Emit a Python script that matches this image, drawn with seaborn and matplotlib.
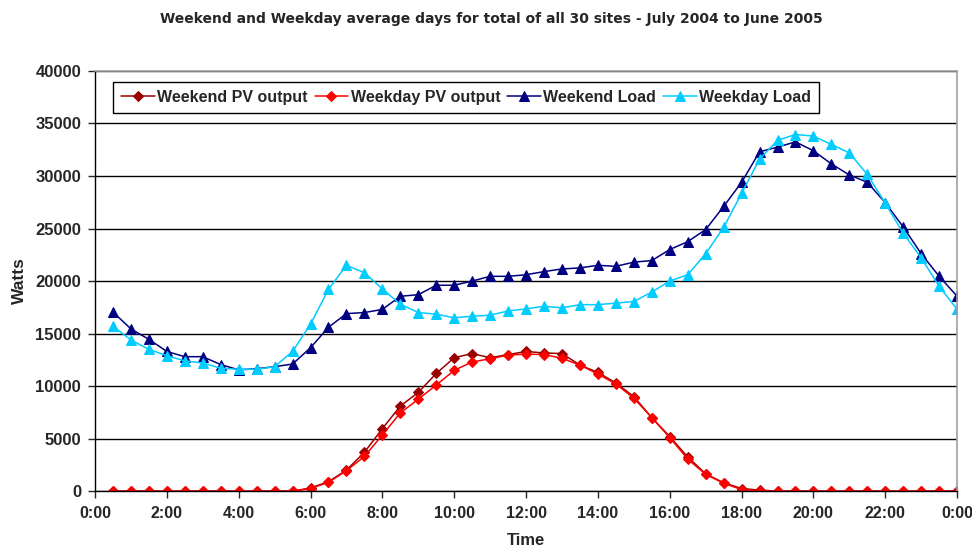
#!/usr/bin/env python3

import numpy as np
import pandas as pd
import seaborn as sns
import matplotlib.pyplot as plt

# half-hour readings, 0:30 through 24:00
times = ["0:30", "1:00", "1:30", "2:00", "2:30", "3:00", "3:30", "4:00",
         "4:30", "5:00", "5:30", "6:00", "6:30", "7:00", "7:30", "8:00",
         "8:30", "9:00", "9:30", "10:00", "10:30", "11:00", "11:30", "12:00",
         "12:30", "13:00", "13:30", "14:00", "14:30", "15:00", "15:30", "16:00",
         "16:30", "17:00", "17:30", "18:00", "18:30", "19:00", "19:30", "20:00",
         "20:30", "21:00", "21:30", "22:00", "22:30", "23:00", "23:30", "24:00"]

weekend_pv = [0, 0, 0, 0, 0, 0, 0, 0, 0, 0, 0,
              300, 900, 2000, 3700, 5950, 8100, 9400, 11200, 12700, 13100,
              12700, 13000, 13300, 13150, 13100, 12000, 11300, 10300, 9000,
              7000, 5200, 3250, 1650, 800, 250, 100,
              0, 0, 0, 0, 0, 0, 0, 0, 0, 0, 0]

weekday_pv = [0, 0, 0, 0, 0, 0, 0, 0, 0, 0, 0,
              250, 850, 1950, 3300, 5350, 7450, 8750, 10100, 11500, 12300,
              12600, 12950, 13050, 13000, 12650, 12000, 11150, 10200, 8850,
              7000, 5100, 3050, 1600, 750, 150, 50,
              0, 0, 0, 0, 0, 0, 0, 0, 0, 0, 0]

weekend_load = [17050, 15450, 14450, 13300, 12800, 12800, 12050, 11550,
                11650, 11850, 12100, 13650, 15600, 16900, 17000, 17300,
                18550, 18700, 19600, 19600, 20000, 20450, 20450, 20600,
                20900, 21150, 21250, 21500, 21400, 21800, 21950, 23000,
                23750, 24900, 27100, 29400, 32300, 32750, 33250, 32400,
                31150, 30100, 29400, 27450, 25150, 22600, 20450, 18550]

weekday_load = [15700, 14400, 13500, 12900, 12400, 12200, 11700, 11600,
                11600, 11850, 13300, 15900, 19200, 21500, 20800, 19250,
                17800, 17000, 16850, 16500, 16650, 16750, 17150, 17350,
                17600, 17450, 17750, 17750, 17900, 18050, 18950, 20000,
                20600, 22600, 25100, 28350, 31600, 33400, 33950, 33800,
                33000, 32200, 30150, 27400, 24550, 22200, 19500, 17300]

tick_hours = [0, 2, 4, 6, 8, 10, 12, 14, 16, 18, 20, 22, 24]
tick_labels = ["0:00", "2:00", "4:00", "6:00", "8:00", "10:00", "12:00",
               "14:00", "16:00", "18:00", "20:00", "22:00", "0:00"]


def to_hours(t):
    h, m = t.split(":")
    return int(h) + int(m) / 60


sns.set_style("white")
plt.rcParams["font.family"] = ["Liberation Sans", "DejaVu Sans"]
plt.rcParams["font.weight"] = "bold"

df = pd.DataFrame({
    "hour": [to_hours(t) for t in times],
    "Weekend PV output": weekend_pv,
    "Weekday PV output": weekday_pv,
    "Weekend Load": weekend_load,
    "Weekday Load": weekday_load,
})

fig = plt.figure(figsize=(9.72, 5.5), dpi=100)
ax = fig.add_axes([0.0977, 0.107, 0.887, 0.764])

series = [
    ("Weekend PV output", "#990000", "D", 5),
    ("Weekday PV output", "#FF0000", "D", 5),
    ("Weekend Load", "#000080", "^", 7.5),
    ("Weekday Load", "#00CCFF", "^", 7.5),
]
for name, col, mk, ms in series:
    sns.lineplot(data=df, x="hour", y=name, ax=ax, color=col, marker=mk,
                 markersize=ms, markeredgecolor=col, linewidth=1.1, label=name)

ax.set_xlim(0, 24)
ax.set_ylim(0, 40000)
ax.set_yticks(np.arange(0, 40001, 5000))
ax.set_xticks(tick_hours)
ax.set_xticklabels(tick_labels)
ax.tick_params(axis="x", labelsize=11.5, length=5, width=1, direction="out",
               bottom=True, pad=6)
ax.tick_params(axis="y", labelsize=12, length=5, width=1, direction="out",
               left=True, pad=5)
ax.yaxis.grid(True, color="black", linewidth=1)
ax.set_axisbelow(True)

for side in ["left", "bottom"]:
    ax.spines[side].set_color("black")
    ax.spines[side].set_linewidth(1)
for side in ["top", "right"]:
    ax.spines[side].set_color("#A0A0A0")
    ax.spines[side].set_linewidth(1.2)

ax.set_xlabel("Time", fontsize=12, fontweight="bold", labelpad=8)
ax.set_ylabel("Watts", fontsize=12.5, fontweight="bold", labelpad=6)
fig.suptitle("Weekend and Weekday average days for total of all 30 sites - July 2004 to June 2005",
             x=0.506, y=0.978, fontsize=10, fontweight="bold",
             family=["DejaVu Sans"])

leg = ax.legend(loc="upper left", bbox_to_anchor=(0.021, 0.974), ncol=4,
                frameon=True, fancybox=False, borderaxespad=0, fontsize=11.5,
                handlelength=2.1, handletextpad=0.15, columnspacing=0.45,
                borderpad=0.5)
leg.get_frame().set_edgecolor("black")
leg.get_frame().set_linewidth(1)
leg.get_frame().set_alpha(1)

fig.savefig("out.png", dpi=100)
